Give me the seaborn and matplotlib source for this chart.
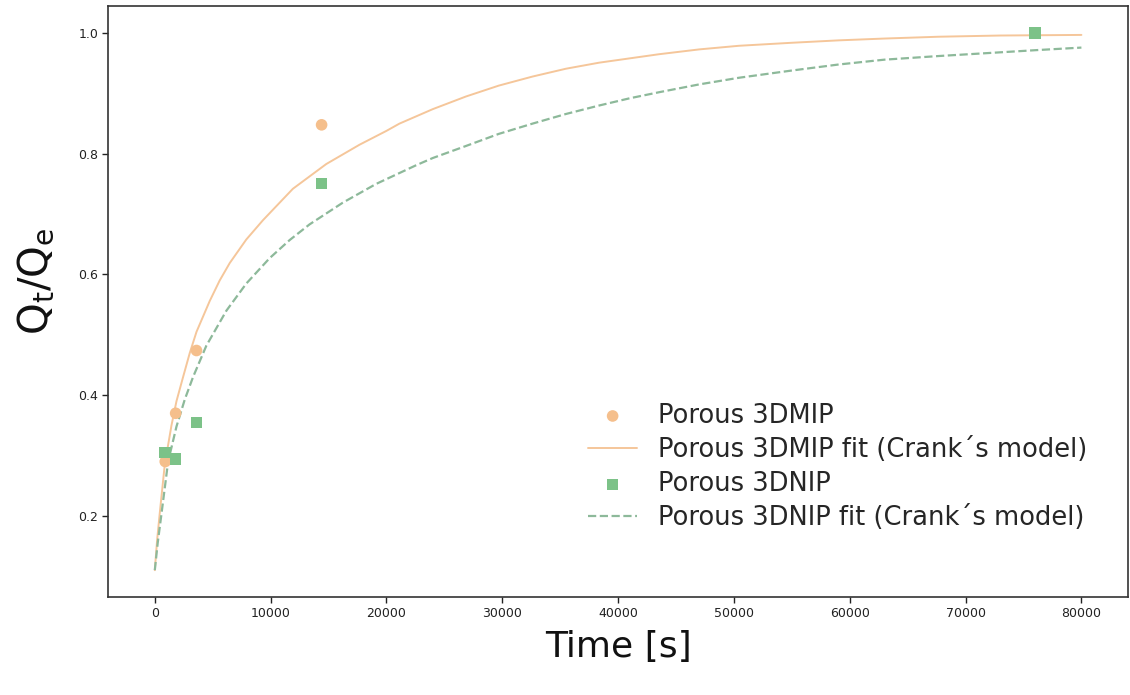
"""
Sorption kinetics: Qt/Qe vs time with Crank's model fits.
"""

import pandas as pd
import matplotlib
matplotlib.use('Agg')
import matplotlib.pyplot as plt
import seaborn as sns

# measured points (time in s)
time_pts = [900, 1800, 3600, 14400, 76000]
mip_pts = [0.290, 0.370, 0.474, 0.848, 1.000]
nip_pts = [0.305, 0.294, 0.355, 0.751, 1.000]

# fit curves
mip_fit_t = [0, 200, 430, 860, 1440, 1870, 2440, 3020, 3600, 4740, 5600,
             6470, 7900, 9340, 11920, 14800, 17670, 20000, 21120, 24000,
             26870, 29700, 32610, 35500, 38360, 43530, 47000, 50430, 55000,
             59050, 63000, 67670, 73000, 80000]
mip_fit_y = [0.110, 0.160, 0.205, 0.285, 0.350, 0.390, 0.430, 0.470, 0.505,
             0.556, 0.590, 0.619, 0.658, 0.690, 0.742, 0.783, 0.815, 0.838,
             0.850, 0.874, 0.895, 0.913, 0.928, 0.941, 0.951, 0.965, 0.973,
             0.979, 0.984, 0.988, 0.991, 0.994, 0.996, 0.997]

nip_fit_t = [0, 250, 580, 1150, 1870, 2590, 3300, 4450, 6180, 7900, 9910,
             11640, 13360, 16230, 19100, 22560, 24000, 26870, 29700, 32610,
             35500, 38360, 41000, 43530, 47000, 50430, 55000, 59050, 63000,
             67670, 72000, 76290, 80000]
nip_fit_y = [0.110, 0.155, 0.204, 0.290, 0.348, 0.393, 0.430, 0.482, 0.540,
             0.585, 0.627, 0.657, 0.683, 0.719, 0.750, 0.781, 0.793, 0.813,
             0.833, 0.850, 0.866, 0.880, 0.892, 0.902, 0.915, 0.926, 0.938,
             0.948, 0.956, 0.962, 0.967, 0.972, 0.976]

orange = '#f5bf8c'
orange_line = '#f5c69a'
green = '#7cc288'
green_line = '#8db99a'

sns.set_theme(style="ticks")
plt.rcParams['font.family'] = ['DejaVu Sans']

fig, ax = plt.subplots(figsize=(11.3, 6.95), dpi=100)
fig.subplots_adjust(left=0.096, right=0.998, top=0.991, bottom=0.141)

pts = pd.DataFrame({'t': time_pts, 'mip': mip_pts, 'nip': nip_pts})

sns.scatterplot(data=pts, x='t', y='mip', ax=ax, color=orange, marker='o',
                s=70, edgecolor='none', label='Porous 3DMIP', zorder=3)
sns.lineplot(x=mip_fit_t, y=mip_fit_y, ax=ax, color=orange_line, lw=1.4,
             label="Porous 3DMIP fit (Crank\u00b4s model)", sort=True)
sns.scatterplot(data=pts, x='t', y='nip', ax=ax, color=green, marker='s',
                s=70, edgecolor='none', label='Porous 3DNIP', zorder=4)
sns.lineplot(x=nip_fit_t, y=nip_fit_y, ax=ax, color=green_line, lw=1.6,
             linestyle='--', label="Porous 3DNIP fit (Crank\u00b4s model)", sort=True)

ax.set_xticks(range(0, 80001, 10000))
ax.set_yticks([0.2, 0.4, 0.6, 0.8, 1.0])
ax.tick_params(labelsize=9, length=4, width=1, colors='#222222')
for sp in ax.spines.values():
    sp.set_color('#333333')
    sp.set_linewidth(1.2)

ax.set_xlabel('Time [s]', fontsize=26, labelpad=7, color='#111111')
ax.set_ylabel('Q$_\\mathregular{t}$/Q$_\\mathregular{e}$', fontsize=29,
              color='#111111')
ax.yaxis.set_label_coords(-0.051, 0.535)

ax.legend(loc='lower right', bbox_to_anchor=(0.975, 0.085), frameon=False,
          fontsize=18.5, handlelength=1.9, labelspacing=0.32,
          handletextpad=0.8, borderaxespad=0.2)

plt.savefig('out.png', dpi=100)
plt.close()
